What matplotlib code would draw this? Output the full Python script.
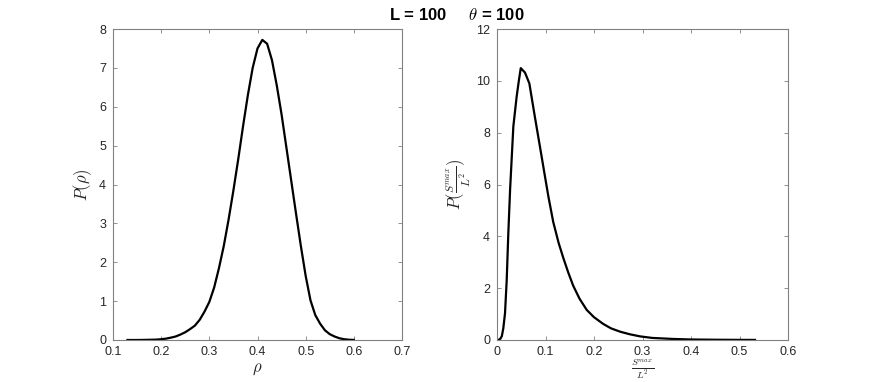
import matplotlib
matplotlib.use("Agg")
import matplotlib.pyplot as plt

plt.rcParams['mathtext.fontset'] = 'cm'
plt.rcParams['font.family'] = ['Liberation Sans', 'DejaVu Sans']

# Left panel: density distribution P(rho)
rho = [0.13, 0.15, 0.17, 0.19, 0.20, 0.21, 0.22, 0.23, 0.24, 0.25, 0.26, 0.27,
       0.28, 0.29, 0.30, 0.31, 0.32, 0.33, 0.34, 0.35, 0.36, 0.37, 0.38, 0.39,
       0.40, 0.41, 0.42, 0.43, 0.44, 0.45, 0.46, 0.47, 0.48, 0.49, 0.50, 0.51,
       0.52, 0.53, 0.54, 0.55, 0.56, 0.57, 0.58, 0.59, 0.60]
p_rho = [0.0, 0.0, 0.004, 0.01, 0.02, 0.035, 0.06, 0.09, 0.14, 0.2, 0.28, 0.37,
         0.52, 0.73, 0.98, 1.35, 1.85, 2.42, 3.1, 3.85, 4.65, 5.5, 6.3, 7.0,
         7.5, 7.72, 7.62, 7.2, 6.55, 5.8, 4.95, 4.1, 3.25, 2.42, 1.65, 1.02,
         0.64, 0.42, 0.25, 0.15, 0.09, 0.045, 0.02, 0.007, 0.002]

# Right panel: largest cluster size distribution P(S^max / L^2)
smax = [0.003, 0.007, 0.010, 0.013, 0.0165, 0.020, 0.0233, 0.027, 0.030, 0.0337,
        0.0405, 0.045, 0.049, 0.0577, 0.0667, 0.078, 0.092, 0.099, 0.106, 0.116,
        0.127, 0.137, 0.147, 0.157, 0.17, 0.185, 0.20, 0.219, 0.235, 0.254,
        0.274, 0.295, 0.32, 0.363, 0.40, 0.45, 0.50, 0.532]
p_smax = [0.0, 0.05, 0.15, 0.45, 1.03, 2.3, 4.1, 5.8, 6.9, 8.24,
          9.39, 10.0, 10.49, 10.32, 9.9, 8.62, 7.08, 6.3, 5.53, 4.55,
          3.75, 3.15, 2.6, 2.1, 1.6, 1.16, 0.88, 0.62, 0.45, 0.32,
          0.22, 0.14, 0.08, 0.04, 0.02, 0.01, 0.005, 0.003]

rho_ticks = [0.1, 0.2, 0.3, 0.4, 0.5, 0.6, 0.7]
rho_yticks = [0, 1, 2, 3, 4, 5, 6, 7, 8]
s_ticks = [0, 0.1, 0.2, 0.3, 0.4, 0.5, 0.6]
s_yticks = [0, 2, 4, 6, 8, 10, 12]

W, H = 872, 382
fig = plt.figure(figsize=(W / 100, H / 100), dpi=100)
ax1 = fig.add_axes([113 / W, 1 - 340 / H, 289 / W, 311 / H])
ax2 = fig.add_axes([497 / W, 1 - 340 / H, 291 / W, 311 / H])

for ax in (ax1, ax2):
    for s in ax.spines.values():
        s.set_color('#808080')
        s.set_linewidth(0.8)
    ax.tick_params(direction='in', top=True, right=True, length=3,
                   width=0.6, color='#808080', labelsize=9, labelcolor='#262626')
    ax.tick_params(axis='x', pad=4)
    ax.tick_params(axis='y', pad=5)

ax1.plot(rho, p_rho, color='black', lw=1.6)
ax1.set_xlim(0.1, 0.7)
ax1.set_ylim(0, 8)
ax1.set_xticks(rho_ticks)
ax1.set_xticklabels([f"{t:g}" for t in rho_ticks])
ax1.set_yticks(rho_yticks)
ax1.set_xlabel(r'$\rho$', fontsize=12, color='#262626', labelpad=3)
ax1.set_ylabel(r'$P(\rho)$', fontsize=12, color='#262626', labelpad=4)

ax2.plot(smax, p_smax, color='black', lw=1.6)
ax2.set_xlim(0, 0.6)
ax2.set_ylim(0, 12)
ax2.set_xticks(s_ticks)
ax2.set_xticklabels([f"{t:g}" for t in s_ticks])
ax2.set_yticks(s_yticks)
ax2.set_xlabel(r'$\frac{S^{max}}{L^2}$', fontsize=10, color='#262626', labelpad=0)
ax2.set_ylabel(r'$P(\frac{S^{max}}{L^2})$', fontsize=12, color='#262626', labelpad=2)

fig.text(457 / W, 1 - 15 / H, r'L = 100     $\theta$ = 100', ha='center', va='center',
         fontsize=12, fontweight='bold', color='black')

fig.savefig('out.png', dpi=100)
